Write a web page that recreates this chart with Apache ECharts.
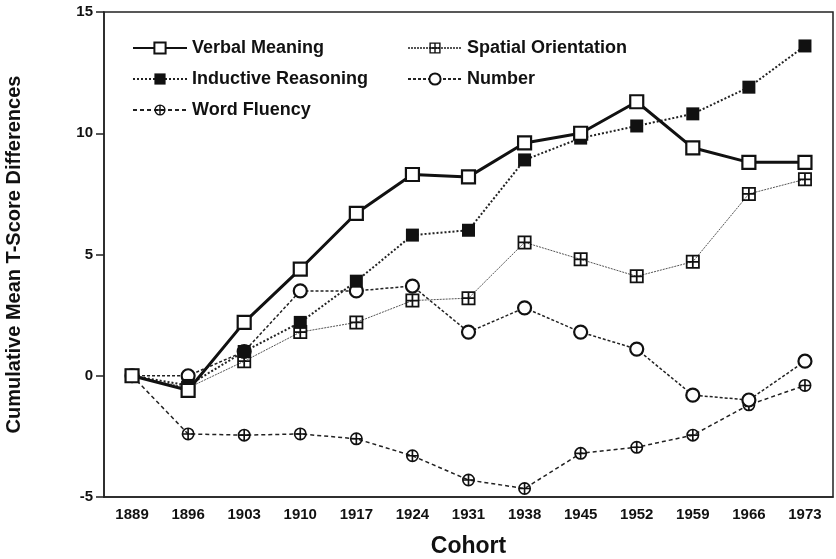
<!DOCTYPE html>
<html>
<head>
<meta charset="utf-8">
<script src="https://cdn.jsdelivr.net/npm/echarts@6/dist/echarts.min.js"></script>
<style>
  html, body { margin: 0; padding: 0; background: #fff; }
  #chart-area { width: 836px; height: 559px; }
</style>
</head>
<body>
<div id="chart-area"></div>
<script>
const cohorts = ['1889', '1896', '1903', '1910', '1917', '1924', '1931', '1938', '1945', '1952', '1959', '1966', '1973'];
const verbalMeaning = [0, -0.6, 2.2, 4.4, 6.7, 8.3, 8.2, 9.6, 10.0, 11.3, 9.4, 8.8, 8.8];
const inductiveReasoning = [0, -0.4, 1.0, 2.2, 3.9, 5.8, 6.0, 8.9, 9.8, 10.3, 10.8, 11.9, 13.6];
const spatialOrientation = [0, -0.5, 0.6, 1.8, 2.2, 3.1, 3.2, 5.5, 4.8, 4.1, 4.7, 7.5, 8.1];
const number = [0, 0, 1.0, 3.5, 3.5, 3.7, 1.8, 2.8, 1.8, 1.1, -0.8, -1.0, 0.6];
const wordFluency = [0, -2.4, -2.45, -2.4, -2.6, -3.3, -4.3, -4.65, -3.2, -2.95, -2.45, -1.2, -0.4];

const font = '"Liberation Sans", Arial, sans-serif';
// square with a cross inside (frame + 4 holes)
const crossSquare = 'path://M0,0H16V16H0Z M2,2V7H7V2Z M9,2V7H14V2Z M2,9V14H7V9Z M9,9V14H14V9Z';
// circle with a cross inside
const crossCircle = 'path://M0,8A8,8 0 1,1 16,8A8,8 0 1,1 0,8Z M2,8A6,6 0 1,0 14,8A6,6 0 1,0 2,8Z M7,1H9V15H7Z M1,7H15V9H1Z';

const legendText = { fontFamily: font, fontWeight: 'bold', fontSize: 18, lineHeight: 18, color: '#111' };

const myChart = echarts.init(document.getElementById('chart-area'));
const option = {
	animation: false,
	backgroundColor: '#fff',
	textStyle: { fontFamily: font },
	grid: {
		left: 104, right: 3, top: 12, bottom: 62,
		containLabel: false,
		outerBoundsMode: 'none',
		show: true, borderColor: '#222', borderWidth: 1.5
	},
	legend: [
		{
			data: ['Verbal Meaning', 'Inductive Reasoning', 'Word Fluency'],
			orient: 'vertical', left: 127, top: 34,
			itemWidth: 54, itemHeight: 14, itemGap: 13,
			textStyle: legendText
		},
		{
			data: ['Spatial Orientation', 'Number'],
			orient: 'vertical', left: 402, top: 34,
			itemWidth: 54, itemHeight: 14, itemGap: 13,
			textStyle: legendText
		}
	],
	xAxis: {
		type: 'category',
		data: cohorts,
		boundaryGap: true,
		name: 'Cohort',
		nameLocation: 'middle',
		nameGap: 38,
		nameTextStyle: { fontFamily: font, fontWeight: 'bold', fontSize: 23, color: '#111' },
		axisLine: { onZero: false, lineStyle: { color: '#222', width: 1.5 } },
		axisTick: { alignWithLabel: true, length: 6, lineStyle: { color: '#222', width: 1.5 } },
		axisLabel: { fontFamily: font, fontWeight: 'bold', fontSize: 15, color: '#111', margin: 10 },
		splitLine: { show: false }
	},
	yAxis: {
		type: 'value',
		min: -5, max: 15, interval: 5,
		name: 'Cumulative Mean T-Score Differences',
		nameLocation: 'middle',
		nameGap: 80,
		nameTextStyle: { fontFamily: font, fontWeight: 'bold', fontSize: 20, color: '#111' },
		axisLine: { show: true, lineStyle: { color: '#222', width: 1.5 } },
		axisTick: { show: true, length: 8, lineStyle: { color: '#222', width: 1.5 } },
		axisLabel: { fontFamily: font, fontWeight: 'bold', fontSize: 15, color: '#111', margin: 11 },
		splitLine: { show: false }
	},
	series: [
		{
			name: 'Word Fluency', type: 'line', data: wordFluency,
			symbol: crossCircle, symbolSize: 13,
			itemStyle: { color: '#111', borderWidth: 0 },
			lineStyle: { color: '#222', width: 1.5, type: [4, 3] }
		},
		{
			name: 'Number', type: 'line', data: number,
			symbol: 'circle', symbolSize: 13,
			itemStyle: { color: '#fff', borderColor: '#111', borderWidth: 2.2 },
			lineStyle: { color: '#222', width: 1.5, type: [3, 2] }
		},
		{
			name: 'Spatial Orientation', type: 'line', data: spatialOrientation,
			symbol: crossSquare, symbolSize: 14,
			itemStyle: { color: '#111', borderWidth: 0 },
			lineStyle: { color: '#555', width: 1, type: [2, 1] }
		},
		{
			name: 'Inductive Reasoning', type: 'line', data: inductiveReasoning,
			symbol: 'rect', symbolSize: 13,
			itemStyle: { color: '#111', borderWidth: 0 },
			lineStyle: { color: '#222', width: 2, type: [2, 2] }
		},
		{
			name: 'Verbal Meaning', type: 'line', data: verbalMeaning,
			symbol: 'rect', symbolSize: 13,
			itemStyle: { color: '#fff', borderColor: '#111', borderWidth: 2.2 },
			lineStyle: { color: '#111', width: 3, type: 'solid' }
		}
	]
};
option && myChart.setOption(option);
</script>
</body>
</html>
